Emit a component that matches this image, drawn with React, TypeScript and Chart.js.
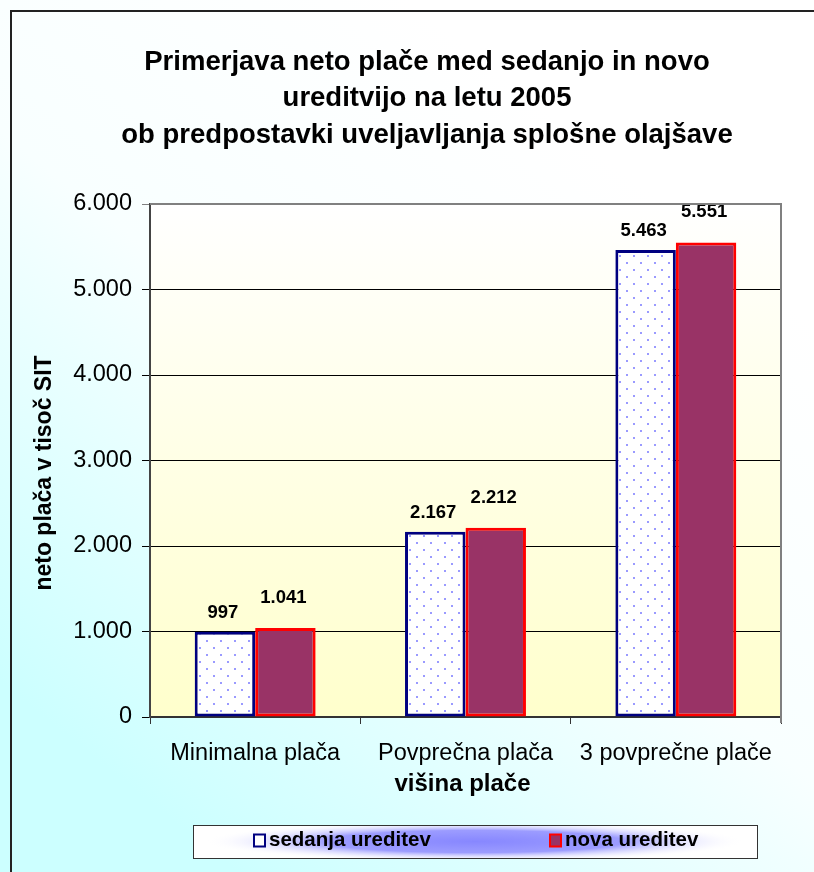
import React, { useEffect, useRef } from 'react';
import { Chart, registerables } from 'chart.js';

Chart.register(...registerables);

const titleLines = [
  'Primerjava neto plače med sedanjo in novo',
  'ureditvijo na letu 2005',
  'ob predpostavki uveljavljanja splošne olajšave',
];
const categories = ['Minimalna plača', 'Povprečna plača', '3 povprečne plače'];
const seriesNames = ['sedanja ureditev', 'nova ureditev'];
const sedanjaValues = [997, 2167, 5463];
const novaValues = [1041, 2212, 5551];
const yMin = 0;
const yMax = 6000;
const yStep = 1000;
const yTitle = 'neto plača v tisoč SIT';
const xTitle = 'višina plače';

const FONT = '"Liberation Sans", Arial, Helvetica, sans-serif';

const fmt = (n: number) => String(Math.round(n)).replace(/\B(?=(\d{3})+(?!\d))/g, '.');

function makeDotPattern(ctx: CanvasRenderingContext2D): CanvasPattern | string {
  const c = document.createElement('canvas');
  c.width = 14;
  c.height = 14;
  const g = c.getContext('2d');
  if (!g) return '#ffffff';
  g.fillStyle = '#ffffff';
  g.fillRect(0, 0, 14, 14);
  g.fillStyle = '#9a9aff';
  g.fillRect(3, 3, 2, 2);
  g.fillRect(10, 10, 2, 2);
  return ctx.createPattern(c, 'repeat') || '#ffffff';
}

const decorPlugin = {
  id: 'decor',
  beforeDraw(chart: any) {
    const { ctx, chartArea: ca, width, height } = chart;
    ctx.save();
    const g = ctx.createLinearGradient(0, 820, 560, 120);
    g.addColorStop(0, '#CCFFFF');
    g.addColorStop(0.12, '#CCFFFF');
    g.addColorStop(0.6, '#F8FFFF');
    g.addColorStop(1, '#FFFFFF');
    ctx.fillStyle = g;
    ctx.fillRect(0, 0, width, height);
    ctx.strokeStyle = '#222222';
    ctx.lineWidth = 2;
    ctx.beginPath();
    ctx.moveTo(11, height + 5);
    ctx.lineTo(11, 11);
    ctx.lineTo(width + 5, 11);
    ctx.stroke();
    const pg = ctx.createLinearGradient(0, ca.top, 0, ca.bottom);
    pg.addColorStop(0, '#FFFFFF');
    pg.addColorStop(1, '#FFFFCC');
    ctx.fillStyle = pg;
    ctx.fillRect(ca.left, ca.top, ca.right - ca.left, ca.bottom - ca.top);
    ctx.restore();
  },
  afterDatasetsDraw(chart: any) {
    const { ctx } = chart;
    const offsets = [19, 30];
    ctx.save();
    ctx.fillStyle = '#000000';
    ctx.font = `bold 18.5px ${FONT}`;
    ctx.textAlign = 'center';
    ctx.textBaseline = 'middle';
    chart.data.datasets.forEach((ds: any, d: number) => {
      const meta = chart.getDatasetMeta(d);
      meta.data.forEach((bar: any, i: number) => {
        ctx.fillText(fmt(ds.data[i]), bar.x - 2, bar.y - offsets[d]);
      });
    });
    ctx.restore();
  },
  afterDraw(chart: any) {
    const { ctx, chartArea: ca } = chart;
    ctx.save();
    ctx.strokeStyle = '#808080';
    ctx.lineWidth = 2;
    ctx.beginPath();
    ctx.moveTo(ca.left, ca.top);
    ctx.lineTo(ca.right, ca.top);
    ctx.lineTo(ca.right, ca.bottom + 6);
    ctx.stroke();

    ctx.fillStyle = '#000000';
    ctx.textAlign = 'center';
    ctx.textBaseline = 'middle';
    ctx.font = `bold 27.5px ${FONT}`;
    titleLines.forEach((t, i) => ctx.fillText(t, 427, 62 + i * 36.5));

    ctx.font = `bold 24px ${FONT}`;
    ctx.fillText(xTitle, (ca.left + ca.right) / 2 - 3, 784);
    ctx.font = `bold 23px ${FONT}`;
    ctx.save();
    ctx.translate(45, 473);
    ctx.rotate(-Math.PI / 2);
    ctx.fillText(yTitle, 0, 0);
    ctx.restore();

    const lx = 193, ly = 825, lw = 564, lh = 33;
    ctx.fillStyle = '#FFFFFF';
    ctx.fillRect(lx, ly, lw, lh);
    ctx.save();
    ctx.beginPath();
    ctx.rect(lx, ly, lw, lh);
    ctx.clip();
    ctx.translate(lx + lw / 2, ly + lh / 2);
    ctx.scale(1, 0.075);
    const rg = ctx.createRadialGradient(0, 0, 0, 0, 0, 270);
    rg.addColorStop(0, 'rgba(135,135,255,1)');
    rg.addColorStop(0.55, 'rgba(145,145,255,0.9)');
    rg.addColorStop(1, 'rgba(255,255,255,0)');
    ctx.fillStyle = rg;
    ctx.fillRect(-300, -300, 600, 600);
    ctx.restore();
    ctx.strokeStyle = '#333333';
    ctx.lineWidth = 1;
    ctx.strokeRect(lx + 0.5, ly + 0.5, lw, lh);

    const cy = ly + lh / 2 - 1;
    const items = [
      { x: 254, fill: '#FFFFFF', stroke: '#000080' },
      { x: 550, fill: '#993366', stroke: '#FF0000' },
    ];
    items.forEach((it, i) => {
      ctx.fillStyle = it.fill;
      ctx.fillRect(it.x, cy - 6, 11, 12);
      ctx.strokeStyle = it.stroke;
      ctx.lineWidth = 2;
      ctx.strokeRect(it.x, cy - 6, 11, 12);
      ctx.fillStyle = '#000000';
      ctx.font = `bold 20.5px ${FONT}`;
      ctx.textAlign = 'left';
      ctx.textBaseline = 'middle';
      ctx.fillText(seriesNames[i], it.x + 15, cy);
    });
    ctx.restore();
  },
};

export default function App() {
  const ref = useRef<HTMLCanvasElement | null>(null);

  useEffect(() => {
    document.body.style.margin = '0';
    const canvas = ref.current;
    if (!canvas) return;
    const ctx = canvas.getContext('2d');
    if (!ctx) return;
    const pattern = makeDotPattern(ctx);

    const chart = new Chart(canvas, {
      type: 'bar',
      data: {
        labels: categories,
        datasets: [
          {
            label: seriesNames[0],
            data: sedanjaValues,
            backgroundColor: pattern as any,
            borderColor: '#000080',
            borderWidth: 3,
            borderSkipped: false,
            categoryPercentage: 0.575,
            barPercentage: 1,
          },
          {
            label: seriesNames[1],
            data: novaValues,
            backgroundColor: '#993366',
            borderColor: '#FF0000',
            borderWidth: 3,
            borderSkipped: false,
            categoryPercentage: 0.575,
            barPercentage: 1,
          },
        ],
      },
      options: {
        responsive: false,
        animation: false,
        devicePixelRatio: 1,
        layout: { padding: { top: 204, left: 0, right: 33, bottom: 0 } },
        plugins: {
          legend: { display: false },
          title: { display: false },
          tooltip: { enabled: false },
        },
        scales: {
          x: {
            offset: true,
            afterFit: (s: any) => {
              s.height = 155;
            },
            grid: {
              offset: true,
              drawOnChartArea: false,
              drawTicks: true,
              tickLength: 7,
              color: '#333333',
            },
            border: { color: '#333333', width: 2 },
            ticks: {
              color: '#000000',
              font: { family: FONT, size: 23.5 },
              padding: 15,
              maxRotation: 0,
              autoSkip: false,
            },
          },
          y: {
            min: yMin,
            max: yMax,
            afterFit: (s: any) => {
              s.width = 150;
            },
            grid: {
              color: (c: any) => (c.tick && c.tick.value === yMax ? '#808080' : '#000000'),
              tickLength: 8,
              drawTicks: true,
            },
            border: { color: '#444444', width: 2 },
            ticks: {
              stepSize: yStep,
              color: '#000000',
              font: { family: FONT, size: 23.5 },
              padding: 10,
              callback: (v: any) => fmt(Number(v)),
            },
          },
        },
      },
      plugins: [decorPlugin],
    });

    return () => chart.destroy();
  }, []);

  return (
    <div style={{ width: 814, height: 872 }}>
      <canvas ref={ref} width={814} height={872} style={{ display: 'block', width: 814, height: 872 }} />
    </div>
  );
}
